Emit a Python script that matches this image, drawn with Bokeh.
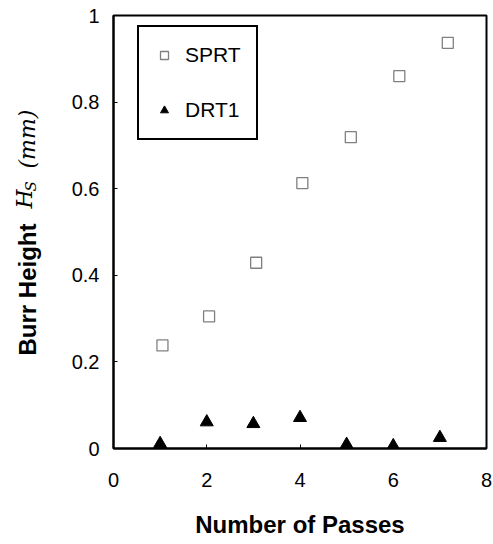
import math
from bokeh.plotting import figure
from bokeh.layouts import row
from bokeh.models import Range1d, FixedTicker, NumeralTickFormatter, Legend, LegendItem
from bokeh.core.properties import value
from bokeh.embed import file_html
from bokeh.resources import INLINE

# Data
passes_sprt = [1.05, 2.05, 3.06, 4.05, 5.09, 6.13, 7.17]
height_sprt = [0.238, 0.305, 0.429, 0.613, 0.719, 0.860, 0.937]
passes_drt1 = [1, 2, 3, 4, 5, 6, 7]
height_drt1 = [0.011, 0.061, 0.057, 0.071, 0.009, 0.006, 0.025]
x_ticks = [0, 2, 4, 6, 8]
y_ticks = [0, 0.2, 0.4, 0.6, 0.8, 1.0]

FONT = "Liberation Sans"
SERIF = "DejaVu Serif"
W, H = 493, 544
LW = 50  # width of the strip that holds the y-axis title
TOP, BOTTOM = 15, 96

p = figure(width=W - LW, height=H, output_backend="svg", toolbar_location=None,
           x_range=Range1d(0, 8), y_range=Range1d(0, 1),
           min_border_left=113 - LW, min_border_right=7, min_border_top=TOP, min_border_bottom=BOTTOM)
p.background_fill_color = "white"
p.border_fill_color = "white"
p.outline_line_color = "black"
p.outline_line_width = 2
p.xgrid.visible = False
p.ygrid.visible = False

for ax in (p.xaxis, p.yaxis):
    ax.axis_line_width = 2
    ax.axis_line_color = "black"
    ax.major_tick_in = 4
    ax.major_tick_out = 0
    ax.major_tick_line_width = 1
    ax.minor_tick_line_color = None
    ax.major_label_text_font = FONT
    ax.major_label_text_font_size = "20px"
    ax.major_label_text_color = "black"

p.xaxis.ticker = FixedTicker(ticks=x_ticks)
p.yaxis.ticker = FixedTicker(ticks=y_ticks)
p.yaxis.formatter = NumeralTickFormatter(format="0.[0]")
p.xaxis.major_label_standoff = 24
p.yaxis.major_label_standoff = 14

p.xaxis.axis_label = "Number of Passes"
p.xaxis.axis_label_text_font = FONT
p.xaxis.axis_label_text_font_style = "bold"
p.xaxis.axis_label_text_font_size = "24px"
p.xaxis.axis_label_text_color = "black"
p.xaxis.axis_label_standoff = 21

r1 = p.scatter(passes_sprt, height_sprt, marker="square", size=11,
               fill_color=None, line_color="#808080", line_width=1.3)
r2 = p.scatter(passes_drt1, height_drt1, marker="triangle", size=13,
               fill_color="black", line_color="black")

legend = Legend(items=[LegendItem(label="SPRT", renderers=[r1]),
                       LegendItem(label="DRT1", renderers=[r2])],
                location=(24, 308))
legend.border_line_color = "black"
legend.border_line_alpha = 1.0
legend.border_line_width = 2
legend.background_fill_alpha = 1.0
legend.padding = 15
legend.spacing = 29
legend.glyph_width = 20
legend.glyph_height = 26
legend.label_height = 26
legend.label_standoff = 11
legend.label_text_font = FONT
legend.label_text_font_size = "21px"
legend.label_text_color = "black"
legend.margin = 0
p.add_layout(legend, "center")

# Y axis title strip: bold "Burr Height" + italic math H_S (mm)
# Its frame is aligned with the main frame (rows 15..448), so map canvas rows directly.
t = figure(width=LW, height=H, output_backend="svg", toolbar_location=None,
           x_range=Range1d(0, LW), y_range=Range1d(BOTTOM, H - TOP),
           min_border_left=0, min_border_right=0, min_border_top=TOP, min_border_bottom=BOTTOM)
t.axis.visible = False
t.grid.visible = False
t.outline_line_color = None
t.background_fill_color = "white"
t.border_fill_color = "white"

def lab(text, cx, cy, font, size, style):
    t.text(x=[cx], y=[H - cy], text=[text], angle=math.pi / 2,
           text_align="left", text_baseline="alphabetic",
           text_font=value(font), text_font_size=size, text_font_style=style,
           text_color="black")

lab("Burr Height", 27, 355, FONT, "24px", "bold")
lab("H", 24, 208, SERIF, "22px", "italic")
lab("S", 30, 191, SERIF, "15px", "italic")
lab("(mm)", 27, 168, SERIF, "22px", "italic")

layout = row(t, p, spacing=0)
open("out.html", "w").write(file_html(layout, INLINE))
